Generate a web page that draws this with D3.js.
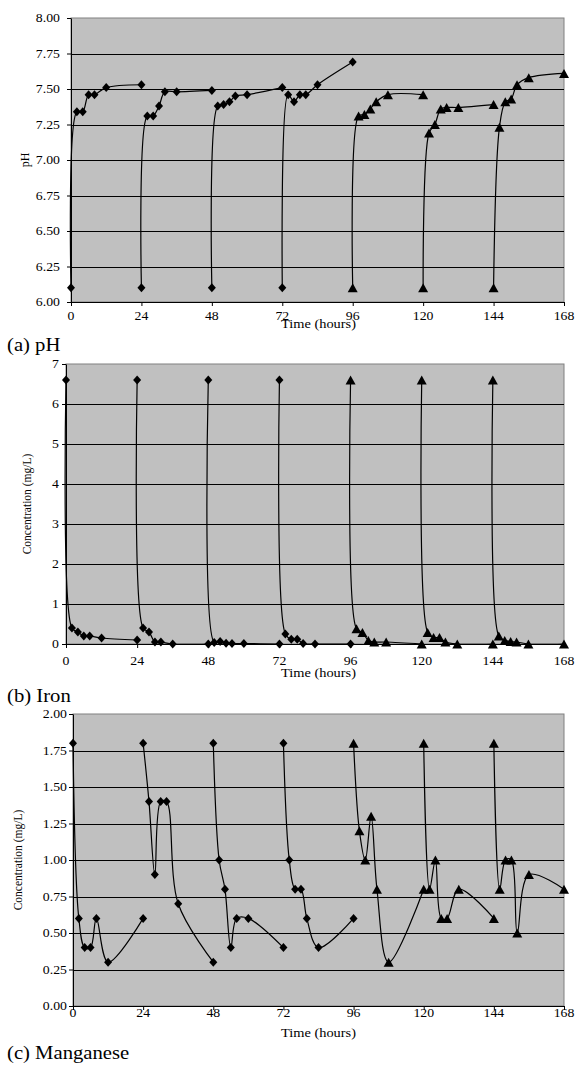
<!DOCTYPE html>
<html><head><meta charset="utf-8">
<script src="https://cdn.jsdelivr.net/npm/d3@7"></script>
<style>html,body{margin:0;padding:0;background:#fff}svg{display:block}</style>
</head><body><svg id="c" width="576" height="1065"></svg>
<script>
// ---- data ----
const sampleHours = [0, 2, 4, 6, 8, 12, 24];
const cycleStarts = [0, 24, 48, 72, 96, 120, 144];
const cycleMarkers = ["diamond", "diamond", "diamond", "diamond", "triangle", "triangle", "triangle"];
const timeTicks = [0, 24, 48, 72, 96, 120, 144, 168];

const pHTicks = [6.00, 6.25, 6.50, 6.75, 7.00, 7.25, 7.50, 7.75, 8.00];
const pHValues = [
  [6.10, 7.34, 7.34, 7.46, 7.46, 7.51, 7.53],
  [6.10, 7.31, 7.31, 7.38, 7.48, 7.48, 7.49],
  [6.10, 7.38, 7.39, 7.41, 7.45, 7.46, 7.51],
  [6.10, 7.46, 7.41, 7.46, 7.46, 7.53, 7.69],
  [6.10, 7.31, 7.32, 7.36, 7.41, 7.46, 7.46],
  [6.10, 7.19, 7.25, 7.36, 7.37, 7.37, 7.39],
  [6.10, 7.23, 7.41, 7.43, 7.53, 7.58, 7.61]
];

const ironTicks = [0, 1, 2, 3, 4, 5, 6, 7];
const ironValues = [
  [6.6, 0.40, 0.30, 0.20, 0.20, 0.15, 0.10],
  [6.6, 0.40, 0.30, 0.05, 0.05, 0.00, 0.00],
  [6.6, 0.04, 0.06, 0.02, 0.01, 0.01, 0.00],
  [6.6, 0.25, 0.12, 0.12, 0.01, 0.00, 0.00],
  [6.6, 0.38, 0.29, 0.09, 0.05, 0.05, 0.00],
  [6.6, 0.29, 0.16, 0.16, 0.05, 0.00, 0.00],
  [6.6, 0.20, 0.09, 0.06, 0.05, 0.00, 0.00]
];

const mnTicks = [0.00, 0.25, 0.50, 0.75, 1.00, 1.25, 1.50, 1.75, 2.00];
const mnValues = [
  [1.8, 0.6, 0.4, 0.4, 0.6, 0.3, 0.6],
  [1.8, 1.4, 0.9, 1.4, 1.4, 0.7, 0.3],
  [1.8, 1.0, 0.8, 0.4, 0.6, 0.6, 0.4],
  [1.8, 1.0, 0.8, 0.8, 0.6, 0.4, 0.6],
  [1.8, 1.2, 1.0, 1.3, 0.8, 0.3, 0.8],
  [1.8, 0.8, 1.0, 0.6, 0.6, 0.8, 0.6],
  [1.8, 0.8, 1.0, 1.0, 0.5, 0.9, 0.8]
];

// ---- layout ----
const SERIF = "'Liberation Serif','Times New Roman',serif";
const SX = 1.15;
const panels = [
  {values: pHValues, ticks: pHTicks, fmt: d3.format(".2f"), yLabel: "pH", caption: "(a) pH",
   l: 71, r: 564, t: 18, b: 302, ylabX: 25, ytOff: 11, xtBase: 320, timeBase: 327.5, capBase: 351, ylabSize: 12},
  {values: ironValues, ticks: ironTicks, fmt: d3.format("d"), yLabel: "Concentration (mg/L)", caption: "(b) Iron",
   l: 66, r: 564, t: 364, b: 644, ylabX: 27, ytOff: 7, xtBase: 665, timeBase: 676.5, capBase: 701.5, ylabSize: 11.5},
  {values: mnValues, ticks: mnTicks, fmt: d3.format(".2f"), yLabel: "Concentration (mg/L)", caption: "(c) Manganese",
   l: 73, r: 564, t: 714, b: 1006, ylabX: 17.5, ytOff: 6, xtBase: 1017, timeBase: 1037, capBase: 1059, ylabSize: 11.5}
];

const svg = d3.select("#c");
svg.append("rect").attr("width", 576).attr("height", 1065).attr("fill", "#fff");

const diamond = "M0,-4.5L4,0L0,4.5L-4,0Z";
const triangle = "M0,-4.5L5,4.5L-5,4.5Z";

function stext(g, x, y, txt, size, anchor) {
  return g.append("text")
    .attr("transform", `translate(${x},${y}) scale(${SX},1)`)
    .attr("text-anchor", anchor || "start")
    .attr("font-family", SERIF).attr("font-size", size)
    .attr("fill", "#000").text(txt);
}

panels.forEach(p => {
  const x = d3.scaleLinear().domain([0, 168]).range([p.l, p.r]);
  const dom = [p.ticks[0], p.ticks[p.ticks.length - 1]];
  const y = d3.scaleLinear().domain(dom).range([p.b, p.t]);
  const g = svg.append("g");

  // plot background
  g.append("rect").attr("x", p.l).attr("y", p.t).attr("width", p.r - p.l).attr("height", p.b - p.t)
    .attr("fill", "#c0c0c0").attr("stroke", "#808080").attr("stroke-width", 1);

  // gridlines
  g.selectAll(".grid").data(p.ticks.slice(1, -1)).enter().append("line")
    .attr("x1", p.l).attr("x2", p.r)
    .attr("y1", d => Math.round(y(d)) + 0.5).attr("y2", d => Math.round(y(d)) + 0.5)
    .attr("stroke", "#000").attr("stroke-width", 1);

  // axes
  const ya = g.append("g").attr("transform", `translate(${p.l},0)`)
    .call(d3.axisLeft(y).tickValues(p.ticks).tickSize(4).tickSizeOuter(0).tickFormat(""));
  const xa = g.append("g").attr("transform", `translate(0,${p.b})`)
    .call(d3.axisBottom(x).tickValues(timeTicks).tickSize(4).tickSizeOuter(0).tickFormat(""));
  [ya, xa].forEach(a => { a.selectAll("path,line").attr("stroke", "#000").attr("stroke-width", 1); });

  // tick labels via scales
  p.ticks.forEach(v => {
    stext(g, p.l - p.ytOff, y(v) + 4, p.fmt(v), 12, "end");
  });
  timeTicks.forEach(v => {
    stext(g, x(v), p.xtBase, String(v), 12, "middle");
  });

  // axis titles
  stext(g, 318.5, p.timeBase, "Time (hours)", 12.5, "middle");
  g.append("text")
    .attr("transform", `translate(${p.ylabX},${(p.t + p.b) / 2}) rotate(-90)`)
    .attr("text-anchor", "middle").attr("dy", "0.35em")
    .attr("font-family", SERIF).attr("font-size", p.ylabSize).text(p.yLabel);
  stext(g, 7, p.capBase, p.caption, 18, "start");

  // series
  const line = d3.line().x(d => x(d[0])).y(d => y(d[1])).curve(d3.curveCatmullRom.alpha(0.5));
  p.values.forEach((vals, i) => {
    const pts = vals.map((v, j) => [cycleStarts[i] + sampleHours[j], v]);
    g.append("path").datum(pts).attr("d", line)
      .attr("fill", "none").attr("stroke", "#000").attr("stroke-width", 1.2);
    const sym = cycleMarkers[i] === "diamond" ? diamond : triangle;
    g.selectAll(null).data(pts).enter().append("path")
      .attr("d", sym)
      .attr("transform", d => `translate(${x(d[0])},${y(d[1])})`)
      .attr("fill", "#000");
  });
});
</script>
</body></html>
